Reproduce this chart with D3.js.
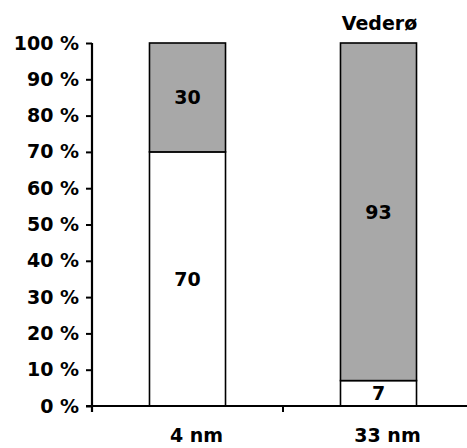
<!DOCTYPE html>
<html>
<head>
<meta charset="utf-8">
<script src="https://cdn.jsdelivr.net/npm/d3@7"></script>
<style>
  html, body { margin: 0; padding: 0; background: #fff; }
  svg { display: block; }
  text { font-family: "DejaVu Sans", sans-serif; font-weight: bold; fill: #000; }
</style>
</head>
<body>
<svg id="chart" width="467" height="448"></svg>
<script>
// Share (%) of each fraction per distance
const categories = ["4 nm", "33 nm"];
const lowerShare = [70, 7];   // white segment
const upperShare = [30, 93];  // grey segment
const yTicks = [0, 10, 20, 30, 40, 50, 60, 70, 80, 90, 100];
const title = "Vederø";

const svg = d3.select("#chart");
const plotLeft = 92, plotRight = 474, plotTop = 43, plotBottom = 406;

const x = d3.scaleBand().domain(categories).range([plotLeft, plotRight])
  .paddingInner(0.602).paddingOuter(0.301);
const y = d3.scaleLinear().domain([0, 100]).range([plotBottom, plotTop]);

const rows = categories.map((c, i) => ({ cat: c, lo: lowerShare[i], hi: upperShare[i] }));
const stack = d3.stack().keys(["lo", "hi"])(rows);
const fills = { lo: "#ffffff", hi: "#a8a8a8" };

// Stacked bars
const layer = svg.selectAll("g.layer").data(stack).join("g")
  .attr("class", "layer")
  .attr("fill", d => fills[d.key]);

layer.selectAll("rect").data(d => d).join("rect")
  .attr("x", d => x(d.data.cat))
  .attr("width", x.bandwidth())
  .attr("y", d => y(d[1]))
  .attr("height", d => y(d[0]) - y(d[1]))
  .attr("stroke", "#000")
  .attr("stroke-width", 1.6);

// Segment value labels
layer.selectAll("text").data(d => d).join("text")
  .attr("x", d => x(d.data.cat) + x.bandwidth() / 2)
  .attr("y", d => y((d[0] + d[1]) / 2))
  .attr("dy", "0.36em")
  .attr("text-anchor", "middle")
  .attr("font-size", 19)
  .attr("fill", "#000")
  .text(d => d[1] - d[0]);

// Y axis
const yAxis = svg.append("g")
  .attr("transform", `translate(${plotLeft},0)`)
  .call(d3.axisLeft(y).tickValues(yTicks).tickSize(6).tickSizeOuter(0)
    .tickFormat(d => d + " %"));
yAxis.select(".domain").remove();
yAxis.selectAll(".tick line").attr("stroke", "#000").attr("stroke-width", 2);
yAxis.selectAll(".tick text")
  .attr("x", -13)
  .attr("font-size", 19)
  .attr("font-family", "DejaVu Sans")
  .attr("font-weight", "bold")
  .attr("fill", "#000");
svg.append("line")
  .attr("x1", plotLeft).attr("x2", plotLeft)
  .attr("y1", plotTop).attr("y2", plotBottom + 6)
  .attr("stroke", "#000").attr("stroke-width", 2.2);

// X axis line with ticks at category boundaries
svg.append("line")
  .attr("x1", plotLeft - 6).attr("x2", plotRight)
  .attr("y1", plotBottom).attr("y2", plotBottom)
  .attr("stroke", "#000").attr("stroke-width", 2);
const bounds = categories.slice(1).map(c => x(c) - x.step() * x.paddingInner() / 2);
svg.selectAll("line.xb").data(bounds).join("line")
  .attr("class", "xb")
  .attr("x1", d => d).attr("x2", d => d)
  .attr("y1", plotBottom).attr("y2", plotBottom + 6)
  .attr("stroke", "#000").attr("stroke-width", 2);

// Category labels
svg.selectAll("text.cat").data(categories).join("text")
  .attr("class", "cat")
  .attr("x", d => x(d) + x.bandwidth() / 2 + 9)
  .attr("y", 442)
  .attr("text-anchor", "middle")
  .attr("font-size", 19)
  .text(d => d);

// Title above the second bar
svg.append("text")
  .attr("x", x(categories[1]) + x.bandwidth() / 2 + 1)
  .attr("y", 30)
  .attr("text-anchor", "middle")
  .attr("font-size", 19)
  .text(title);
</script>
</body>
</html>
